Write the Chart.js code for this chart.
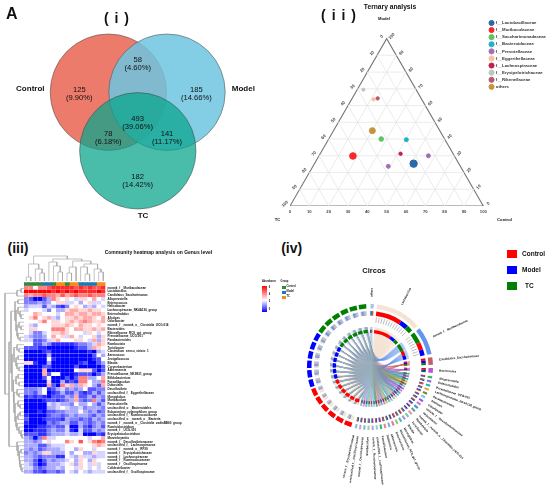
<!DOCTYPE html>
<html>
<head>
<meta charset="utf-8">
<script src="https://cdn.jsdelivr.net/npm/chart.js@4"></script>
<style>
  html, body { margin: 0; padding: 0; background: #fff; }
  body { width: 550px; height: 501px; position: relative; overflow: hidden; font-family: "Liberation Sans", Arial, sans-serif; }
  canvas { position: absolute; filter: blur(.3px); }
  .t { position: absolute; white-space: nowrap; line-height: 1; color: #111; }
</style>
</head>
<body>
<script>
// (i) venn
const vennNames = ["Control", "Model", "TC"];
const vennCounts = ["125", "185", "182", "58", "78", "141", "493"];
const vennShares = ["(9.90%)", "(14.66%)", "(14.42%)", "(4.60%)", "(6.18%)", "(11.17%)", "(39.06%)"];

// (ii) ternary: percentages per family
const families = ["f__Lactobacillaceae", "f__Muribaculaceae", "f__Saccharimonadaceae", "f__Bacteroidaceae", "f__Prevotellaceae",
  "f__Eggerthellaceae", "f__Lachnospiraceae", "f__Erysipelotrichaceae", "f__Rikenellaceae", "others"];
const famControl = [[51.3], [17.6], [27.2], [40.4], [56.6, 39], [11.4], [41.6], [3.2], [13.2], [20.1]];
const famModel = [[25.3], [29.9], [40], [39.6], [30, 23.7], [63.7], [31.2], [69.5], [64.3], [45]];
const famTC = [[23.4], [52.5], [32.8], [20], [13.4, 37.3], [24.9], [27.2], [27.3], [22.5], [34.9]];
const famSize = [3.7, 3.3, 2.3, 2, 2, 1.7, 1.7, 1.6, 1.7, 3];
const famColors = ["#2b69a8", "#f8282c", "#5cc465", "#1fb1cc", "#a56fb8", "#fcbfa6", "#c21f4c", "#bcc7c4", "#b45a72", "#c4963c"];
const ternaryTicks = [0, 10, 20, 30, 40, 50, 60, 70, 80, 90, 100];

// (iii) heatmap
const genera = ["norank_f__Muribaculaceae", "Lactobacillus", "Candidatus_Saccharimonas", "Alloprevotella", "Enterococcus", "Helicobacter",
  "Lachnospiraceae_NK4A136_group", "Enterorhabdus", "Alistipes", "Odoribacter", "norank_f__norank_o__Clostridia_UCG-014", "Bacteroides",
  "Rikenellaceae_RC9_gut_group", "Prevotellaceae_UCG-001", "Parabacteroides", "Romboutsia", "Turicibacter", "Clostridium_sensu_stricto_1",
  "Aerococcus", "Jeotgalicoccus", "Blautia", "Corynebacterium", "Akkermansia", "Prevotellaceae_NK3B31_group", "Bifidobacterium",
  "Faecalibaculum", "Dubosiella", "Desulfovibrio", "unclassified_f__Eggerthellaceae", "Monoglobus", "Muribaculum", "Parasutterella",
  "unclassified_o__Bacteroidales", "Eubacterium_xylanophilum_group", "unclassified_f__Ruminococcaceae", "unclassified_o__norank_o__Bacteria",
  "norank_f__norank_o__Clostridia_vadinBB60_group", "Ruminiclostridium", "norank_f__UCG-010", "Erysipelatoclostridium", "Marvinbryantia",
  "norank_f__Desulfovibrionaceae", "unclassified_f__Lachnospiraceae", "norank_f__norank_o__RF39", "norank_f__Erysipelotrichaceae",
  "norank_f__Lachnospiraceae", "norank_f__Ruminococcaceae", "norank_f__Oscillospiraceae", "Colidextribacter", "unclassified_f__Oscillospiraceae"];
const colGroups = ["Control", "Control", "Control", "Control", "Model", "Model", "Control", "TC", "TC", "Control", "TC", "TC", "Model", "Model", "Model", "Model", "TC", "TC"];
const groupColors = { Control: "#2e8b3e", Model: "#1f78b4", TC: "#f28e1c" };
const heat = [
  [4.5,4.5,3,4.5,4.5,5,5.5,5.5,5.5,5.5,5.5,5,5.5,5,5.5,5,5,5.5],
  [6,6,6,6,6,6,5.5,6,5.5,6,5.5,6,5.5,5.5,5.5,5.5,6,5.5],
  [4.5,4,4.5,4.5,5,4.5,4.5,4,5,4,4.5,5,4.5,4.5,5,4.5,4.5,4.5],
  [1.5,1,0,0,1,2,4.5,3.5,3,3.5,3,2.5,3.5,3.5,3,4,3,2.5],
  [1.5,1.5,1.5,2,1.5,2,3,3.5,3.5,2.5,2.5,3,2,3,3.5,2.5,2.5,3],
  [2,2.5,2.5,2.5,1,2.5,2,1,0.5,1.5,3,3.5,3,2,2.5,2,3,2.5],
  [2.5,3,3,3,2.5,1.5,3,2,2,3.5,4,4,3.5,3.5,4,3.5,3.5,3],
  [3,3,4,3.5,3,3,3,2.5,3,4,4,3.5,4,4,3.5,4,4,3.5],
  [3,3.5,4.5,3,3.5,4,2.5,2,3,3.5,3.5,4,3.5,4,4,3.5,3,4],
  [3,3,3,3.5,4.5,3,3.5,3.5,3,3.5,4,3.5,4,4.5,4,3.5,3.5,4],
  [3,2.5,2,3,3,3,3.5,3.5,3.5,4,3.5,3,4,3.5,3.5,3,3.5,3],
  [3,3.5,3.5,3,3,3,4.5,4.5,4.5,3.5,3,4,4,3.5,3.5,4,3.5,4],
  [3,2.5,1.5,1.5,2.5,3,3.5,3.5,4,3.5,3,3,3,2.5,3.5,3,2.5,3],
  [2.5,2,1.5,1.5,2,3,4,3,3.5,2.5,4,3,2.5,3,3,3.5,2,3.5],
  [2.5,2.5,1,1,1.5,2.5,3.5,4,3,3,3,3.5,3.5,3,2.5,4,2,3.5],
  [3,3,1,1,2,1.5,0.5,0.5,0.5,0.5,0.5,1,1.5,1.5,2,2.5,4,3.5],
  [1,1,1,0.5,0.5,0,0,0,0,0,0,0.5,1,1,2,4,3.5,3],
  [0,0,0,0,0.5,1,0,0,0,0,0,0,0,0,0.5,0,2,2.5],
  [0,0,0,0,0,2,0,0,0,0,0,0,0,0,0,1,3,2],
  [0,0,0,0,0,3,0.5,0,0,0,0,0,0,0,0,0.5,1,3],
  [3.5,3.5,0.5,0,0,2,0,0,0,0,0,0,0.5,1,0,0,1,2],
  [0,0,0,0,1,1,0,0,0,0,0,1,0,0,0,0,0,1],
  [0,0,0,0,4,0,0,0,0,0,0,3,3.5,3.5,3.5,1,0,1],
  [0,0,0,0,4,1,3,3,0,0,0,0.5,1,1,1,0,1,2],
  [0,0,0,0,1,3,0,0,0,1,0,1,4.5,4.5,2,2,3,4],
  [0,0,0,0,0,3.5,0,0,2,0.5,1,0.5,4.5,4.5,3,2,2,4.5],
  [0,0,0,0,0,4,1,0,4.5,3.5,4,2,4,3.5,3,2,1,4],
  [1.5,1.5,1.5,2,3,0.5,1,2,2.5,1.5,2,1.5,2,3,1,1,1.5,1.5],
  [1.5,1.5,1,2,3,0,0.5,1,2,1,1,2,1,0.5,1,2,1,2],
  [0.5,1,0.5,1,0.5,0,1,1,1,2,1.5,4,1,1,2,1,2,1.5],
  [0,0,0,0,0.5,1,1,0.5,1,1.5,2,4,1.5,1,1.5,4.5,2,1],
  [0,0,0,0,0,2.5,2,2.5,2,2,1.5,3,2,2,3,2,1,2],
  [0,0,0,0,0,2,2,2.5,3,2.5,2,2,2.5,1.5,2,2,2,1.5],
  [0,0,0,0.5,0,1,1,1.5,1.5,2,2,2,3,2,1.5,2,1,1.5],
  [0.5,0,0,0,0,1,1.5,1.5,1,1.5,2,1.5,2,2,1.5,1,2,1.5],
  [1,0,0,0,0.5,1,1,1,0.5,2,1.5,1.5,1,1.5,1,2,1.5,2],
  [0.5,0,0,0,0,1.5,1,1.5,2,2,1,1,2,1.5,1,1.5,2,1.5],
  [0,0,0,0.5,0.5,1,1.5,1,1,2.5,0,0,2,1,0.5,1.5,2,1],
  [0,0,0.5,0.5,0.5,1.5,2,1.5,1.5,2.5,0.5,0,2.5,1,1,2,1.5,2],
  [1,1,1,0.5,0.5,1.5,2,2,2,2.5,2,2,2.5,0,0,0,1,0.5],
  [2,1.5,0,1.5,4.5,2.5,2.5,3,3,3,3,3,3,3,2.5,3,3,4],
  [2,2,1.5,2,3,3.5,3,3,3,4.5,3.5,3,5,3,3.5,4.5,5,4.5],
  [2,2,2,1,1,2,2.5,2.5,2.5,3,3,3,3,3,3,3.5,4,3.5],
  [2,1.5,2,1,1.5,2,2,2,2.5,3,3,2,3.5,3,3,2.5,3,3],
  [1.5,2,1.5,2,3.5,3.5,2,2,2,3,2,3,3,2,2,3.5,2.5,2.5],
  [2,2,1.5,1,1.5,1.5,1.5,0.5,0.5,3,2.5,2,3.5,2.5,2.5,2,2.5,2.5],
  [2,2,1,0,1,2,1.5,2,2,2.5,3,2,3.5,3,2,3.5,3,3],
  [2.5,2,1,0,0.5,2,2,2,2.5,3,3.5,2,3.5,3,2.5,3.5,2.5,3],
  [2.5,2.5,1.5,1,1.5,2,2,2.5,2,3,3,2.5,3.5,3,2.5,3,2.5,3],
  [2,2,1,1,0.5,1.5,1.5,1,1.5,3,2.5,2,3,2.5,2,2.5,2.5,2.5]
];
// dendrograms: [height, left, right], leaves are column / row numbers
const colTree = [25,
  [17, [4, 0, 1], [12, 2, [8, 3, 4]]],
  [22,
    [19, 5, [15, 6, [9, 7, 8]]],
    [20, [14, [8, 9, 10], 11], [17, [14, 12, [7, 13, 14]], [12, 15, [9, 16, 17]]]]]];
const rowTreeA = [9, [6, 3, 4], [8, [6, 5, [4, 6, [3, 7, 8]]], [7, [5, 9, [3, 10, 11]], [6, 12, [4, 13, 14]]]]];
const rowTreeB = [12, [10, [7, 15, [5, 16, 17]], [8, [6, 18, 19], [7, 20, [5, 21, 22]]]],
  [11, [8, [6, 23, 24], [5, 25, 26]], [10, [7, 27, [5, 28, 29]], [9, [6, 30, [4, 31, 32]], [8, [6, [4, 33, 34], 35], [7, 36, [5, 37, [3, 38, [2, 39, 40]]]]]]]]];
const rowTreeC = [7, 41, [6, 42, [5, [3, 43, 44], [4.5, 45, [4, 46, [3, 47, [2, 48, 49]]]]]]];
const rowTree = [19, [7, [3, 0, 1], 2], [15, [13, rowTreeA, rowTreeB], rowTreeC]];

// (iv) circos
const circosTaxa = ["others", "Lactobacillus", "norank_f__Muribaculaceae", "Candidatus_Saccharimonas", "Bacteroides",
  "Alloprevotella", "Enterorhabdus", "Prevotellaceae_UCG-001", "Lachnospiraceae_NK4A136_group", "Parabacteroides", "Alistipes", "Odoribacter",
  "norank_f__Desulfovibrionaceae", "Helicobacter", "norank_f__norank_o__Clostridia_UCG-014", "Romboutsia", "Turicibacter", "Blautia", "Monoglobus",
  "Rikenellaceae_RC9_gut_group", "Enterococcus", "Akkermansia", "Dubosiella", "Faecalibaculum", "unclassified_f__Lachnospiraceae",
  "norank_f__Ruminococcaceae", "Muribaculum", "norank_f__Oscillospiraceae", "unclassified_f__Oscillospiraceae", "norank_f__Erysipelotrichaceae"];
const taxaSpan = [3, 42.5, 26, 7, 4.5, 2, 2, 2, 2, 2, 2, 2, 2, 2, 2, 2, 2, 2, 2, 2, 2, 2, 2, 2, 2, 2, 2, 2, 2, 2];
const taxaMix = [[.3,.35,.35],[.65,.2,.15],[.3,.25,.45],[.35,.35,.3],[.4,.3,.3],[.4,.4,.2],[.3,.3,.4],[.5,.2,.3],[.4,.2,.4],[.3,.5,.2],[.4,.3,.3],[.3,.4,.3],[.35,.3,.35],
  [.2,.5,.3],[.4,.4,.2],[.3,.5,.2],[.3,.4,.3],[.4,.3,.3],[.3,.3,.4],[.5,.2,.3],[.4,.4,.2],[.2,.4,.4],[.3,.3,.4],[.5,.3,.2],[.3,.4,.3],[.4,.3,.3],[.3,.4,.3],[.3,.3,.4],[.4,.3,.3],[.3,.4,.3]];
const taxaColors = ["#a9c4e8", "#f5e3d3", "#6495ed", "#c45f5f", "#ba55d3", "#3cb371", "#9370db", "#20b2aa", "#e0a040", "#6b8e23",
  "#87bfe8", "#8a60d8", "#d070c8", "#3aa0c0", "#5f9ea0", "#d8a0a0", "#66cdaa", "#b090e0", "#48c0b0", "#a0c070", "#cd7fb0", "#7fb0e0",
  "#e08a80", "#40b080", "#8fd0d0", "#c0a0e0", "#a0d0a0", "#70c0d8", "#d0a0c8", "#90b8e0"];
const circosGroups = ["#ff0000", "#0000ff", "#008000"]; // Control, Model, TC

// ---------- helpers
Chart.defaults.animation = false;
Chart.defaults.responsive = false;
Chart.defaults.devicePixelRatio = 1;
Chart.defaults.font.family = '"Liberation Sans", Arial, sans-serif';
Chart.defaults.plugins.legend.display = false;
Chart.defaults.plugins.tooltip.enabled = false;

function makeCanvas(left, top, w, h) {
  const c = document.createElement("canvas");
  c.width = w; c.height = h;
  c.style.left = left + "px"; c.style.top = top + "px";
  c.style.width = w + "px"; c.style.height = h + "px";
  document.body.appendChild(c);
  return c.getContext("2d");
}

function text(str, x, y, size, bold, extra) {
  const s = document.createElement("span");
  s.className = "t";
  s.textContent = str;
  s.style.left = x + "px"; s.style.top = y + "px";
  s.style.fontSize = size + "px";
  if (bold) s.style.fontWeight = "bold";
  s.style.transform = "translate(-50%,-50%)";
  if (extra) Object.assign(s.style, extra);
  document.body.appendChild(s);
  return s;
}

// ---------- (i) venn
const venn = new Chart(makeCanvas(0, 0, 275, 230), {
  type: "bubble",
  data: {
    labels: vennNames,
    datasets: [{
      data: [{ x: 108.4, y: 92.2, r: 58.2 }, { x: 167, y: 92.2, r: 58.2 }, { x: 137.8, y: 150.8, r: 58.2 }],
      backgroundColor: ["rgba(233,105,87,.88)", "rgba(110,198,224,.85)", "rgba(10,165,140,.74)"],
      borderColor: "rgba(70,70,70,.75)",
      borderWidth: 0.7,
      clip: false
    }]
  },
  options: { scales: { x: { display: false, min: 0, max: 275 }, y: { display: false, min: 0, max: 230, reverse: true } } }
});
// bubbles keep a margin as big as their radius, so the scales get the inner box
venn.options.scales.x.min = venn.chartArea.left;
venn.options.scales.x.max = venn.chartArea.right;
venn.options.scales.y.min = venn.chartArea.top;
venn.options.scales.y.max = venn.chartArea.bottom;
venn.update();

const vennPos = [[79.3, 89.7], [196.3, 89.7], [137.7, 177], [137.7, 60.3], [108.3, 133.7], [167, 133.7], [137.7, 119]];
vennCounts.forEach((c, i) => {
  text(c, vennPos[i][0], vennPos[i][1], 7.6);
  text(vennShares[i], vennPos[i][0], vennPos[i][1] + 7.8, 7.6);
});
text("Control", 30.3, 89.3, 8, true);
text("Model", 243.3, 89.3, 8, true);
text("TC", 143, 216, 8, true);
text("A", 11.7, 14, 16, true);
text("( i )", 117, 17.5, 14, true, { letterSpacing: "1px" });
text("( i i )", 339, 15, 14, true, { letterSpacing: "1px" });
text("(iii)", 18, 248, 14, true);
text("(iv)", 291.7, 248.3, 14, true);

// ---------- (ii) ternary
const ternXY = (c, m) => ({ x: c + m / 2, y: m * 0.866 });
const lineDs = (pts, color, width) => ({ type: "scatter", data: pts, showLine: true, borderColor: color, borderWidth: width, pointRadius: 0, order: 5, label: "" });

const ternDatasets = families.map((f, i) => ({
  label: f,
  data: famControl[i].map((c, k) => ternXY(c, famModel[i][k])),
  backgroundColor: famColors[i],
  borderColor: famColors[i],
  pointRadius: famSize[i],
  order: 1
}));
ternaryTicks.slice(1, -1).forEach(v => {
  ternDatasets.push(lineDs([ternXY(100 - v, v), ternXY(0, v)], "#e6e6e6", 0.8));
  ternDatasets.push(lineDs([ternXY(v, 100 - v), ternXY(v, 0)], "#e6e6e6", 0.8));
  ternDatasets.push(lineDs([ternXY(100 - v, 0), ternXY(0, 100 - v)], "#e6e6e6", 0.8));
});
ternDatasets.push(lineDs([ternXY(0, 0), ternXY(100, 0), ternXY(0, 100), ternXY(0, 0)], "#777", 1.1));

const ternarySides = {
  id: "ternarySides",
  afterDraw(chart) {
    const { ctx, scales } = chart;
    ctx.save();
    ctx.font = "bold 4.2px " + Chart.defaults.font.family;
    ctx.fillStyle = "#444";
    ctx.textAlign = "center"; ctx.textBaseline = "middle";
    const put = (v, p, dx, dy) => {
      ctx.save();
      ctx.translate(scales.x.getPixelForValue(p.x) + dx, scales.y.getPixelForValue(p.y) + dy);
      ctx.rotate(-Math.PI / 4);
      ctx.fillText(String(v), 0, 0);
      ctx.restore();
    };
    ternaryTicks.forEach(v => {
      put(v, ternXY(0, 100 - v), -5, -2);
      put(v, ternXY(100 - v, v), 5, -2.3);
    });
    ctx.restore();
  }
};

// canvas runs a little past the page edge so the legend sits where it does in the picture
const tern = new Chart(makeCanvas(275, 0, 281, 230), {
  type: "scatter",
  data: { datasets: ternDatasets },
  plugins: [ternarySides],
  options: {
    layout: { padding: { left: 15, top: 18, right: 0, bottom: 0 } },
    scales: {
      x: {
        min: 0, max: 103,
        grid: { display: false, drawTicks: false }, border: { display: false },
        afterBuildTicks: s => { s.ticks = ternaryTicks.map(v => ({ value: v })); },
        afterFit: s => { s.height = 24; },
        ticks: { font: { size: 4.2, weight: "bold" }, color: "#444", padding: 3, maxRotation: 0, autoSkip: false }
      },
      y: { display: false, min: 0, max: 97.25 }
    },
    plugins: {
      legend: {
        display: true, position: "right", align: "start",
        labels: {
          usePointStyle: true, boxHeight: 3.6, padding: 2.8,
          font: { size: 4.3, weight: "bold" }, color: "#333",
          filter: it => !!it.text
        }
      }
    }
  }
});
// same px per unit on both axes so the triangle stays equilateral at 193.3px wide
tern.options.scales.x.max = (tern.chartArea.right - tern.chartArea.left) / 1.933;
tern.options.scales.y.max = (tern.chartArea.bottom - tern.chartArea.top) / 1.933;
tern.update();
text("Ternary analysis", 390, 7, 6.7, true);
text("Model", 384, 19, 4.2, true);
text("TC", 277.5, 220, 4.2, true);
text("Control", 504.5, 220, 4.2, true);

// ---------- (iii) heatmap
function heatColor(v) {
  if (v <= 3) { const k = Math.round(255 * v / 3); return `rgb(${k},${k},255)`; }
  const k = Math.round(255 * (6 - v) / 3);
  return `rgb(255,${k},${k})`;
}
new Chart(makeCanvas(0, 275, 275, 226), {
  type: "bar",
  data: {
    labels: [""].concat(genera),
    datasets: colGroups.map((g, c) => ({
      data: [""].concat(genera).map(() => 1),
      backgroundColor: [groupColors[g]].concat(heat.map(r => heatColor(r[c]))),
      // the group strip stays solid, only the cells get a faint white edge
      borderColor: "rgba(255,255,255,.45)",
      borderWidth: ctx => (ctx.dataIndex === 0 ? 0 : 0.2),
      borderSkipped: false,
      barPercentage: 1,
      categoryPercentage: 1
    }))
  },
  options: {
    indexAxis: "y",
    layout: { padding: { left: 24, top: 7.2, right: 0, bottom: 27.3 } },
    scales: {
      x: { display: false, stacked: true, min: 0, max: 18 },
      y: {
        stacked: true, position: "right",
        grid: { display: false, drawTicks: false }, border: { display: false },
        afterFit: s => { s.width = 169.5; },
        ticks: { autoSkip: false, font: { size: 3, weight: "bold" }, color: "#111", padding: 2 }
      }
    }
  }
});
text("Community heatmap analysis on Genus level", 104.7, 251.7, 5, true, { transform: "translateY(-50%)" });

// dendrograms
const treePts = [];
function walk(node, pos, toXY) {
  if (typeof node === "number") return { p: pos(node), h: 0 };
  const [h, a, b] = node;
  const A = walk(a, pos, toXY), B = walk(b, pos, toXY);
  treePts.push(toXY(A.p, A.h), toXY(A.p, h), toXY(B.p, h), toXY(B.p, B.h), { x: NaN, y: NaN });
  return { p: (A.p + B.p) / 2, h };
}
walk(colTree, c => 24 + (c + 0.5) * 81.5 / 18, (p, h) => ({ x: p, y: 281 - h }));
walk(rowTree, r => 286.7 + (r + 0.5) * 3.74, (p, h) => ({ x: 24 - h, y: p }));
new Chart(makeCanvas(0, 250, 110, 235), {
  type: "scatter",
  data: { datasets: [{ data: treePts, showLine: true, borderColor: "#a8a8a8", borderWidth: 0.7, pointRadius: 0 }] },
  options: { scales: { x: { display: false, min: 0, max: 110 }, y: { display: false, min: 250, max: 485, reverse: true } } }
});

// ---------- (iv) circos
const CX = 369.5, CY = 367;
const rad = d => d * Math.PI / 180;
const polar = (deg, r) => ({ x: r * Math.sin(rad(deg)), y: r * Math.cos(rad(deg)) });

// sector layout, degrees clockwise from the top
const taxaGap = taxaSpan.map((s, i) => (i < 5 ? 3 : 1.9));
const taxaStart = [];
let angle = 0.5;
taxaSpan.forEach((s, i) => { taxaStart.push(angle); angle += s + taxaGap[i]; });
const sampleStartAngle = 197.5, sampleSpan = 7, sampleStep = 8.94;
const sampleGroup = s => Math.floor(s / 6);
const groupTotal = [0, 1, 2].map(g => taxaSpan.reduce((a, s, t) => a + s * taxaMix[t][g], 0));

function pieces(taxonParts, sampleParts) {
  const data = [], colors = [];
  let at = 0;
  const goTo = a => { if (a > at + 1e-6) { data.push(a - at); colors.push("rgba(0,0,0,0)"); at = a; } };
  taxaSpan.forEach((s, t) => {
    goTo(taxaStart[t]);
    taxonParts(t).forEach(([d, col]) => { data.push(d); colors.push(col); at += d; });
  });
  for (let s = 0; s < 18; s++) {
    goTo(sampleStartAngle + s * sampleStep);
    sampleParts(s).forEach(([d, col]) => { data.push(d); colors.push(col); at += d; });
  }
  goTo(360);
  return { data, backgroundColor: colors, borderWidth: 0 };
}
const taxonMixParts = t => [0, 1, 2].map(g => [taxaSpan[t] * taxaMix[t][g], circosGroups[g]]).sort((a, b) => b[0] - a[0]);
const ringA = pieces(t => [[taxaSpan[t], taxaColors[t]]], s => [[sampleSpan, circosGroups[sampleGroup(s)]]]);
const ringB = pieces(taxonMixParts, s => taxaSpan.map((sp, t) => [sampleSpan * sp * taxaMix[t][sampleGroup(s)] / groupTotal[sampleGroup(s)], taxaColors[t]]));
const ringC = pieces(taxonMixParts, s => [[sampleSpan, circosGroups[sampleGroup(s)]]]);
const spacer = w => ({ data: [1], backgroundColor: ["rgba(0,0,0,0)"], borderWidth: 0, weight: w });

// chords first, rings on top
const chordSets = [];
const sampleCursor = new Array(18).fill(0);
const chordItems = [];
taxaSpan.forEach((sp, t) => {
  let cur = taxaStart[t];
  taxonMixParts(t).forEach(([deg, col]) => {
    const g = circosGroups.indexOf(col);
    for (let s = g * 6; s < g * 6 + 6; s++) {
      const w = deg / 6;
      const sampleW = sampleSpan * sp * taxaMix[t][g] / groupTotal[g];
      const a = cur + w / 2;
      const b = sampleStartAngle + s * sampleStep + sampleCursor[s] + sampleW / 2;
      sampleCursor[s] += sampleW;
      cur += w;
      chordItems.push({ t, a, b, width: Math.max(0.4, 40 * rad(w) * 1.05) });
    }
  });
});
chordItems.reverse().forEach(ch => {
  const p = polar(ch.a, 40), q = polar(ch.b, 40);
  chordSets.push({
    data: [p, { x: (p.x + q.x) * 0.2 + 3, y: (p.y + q.y) * 0.2 - 4 }, q],
    showLine: true, tension: 0.4, pointRadius: 0,
    borderWidth: ch.width,
    borderColor: taxaColors[ch.t] + (ch.t === 1 ? "e0" : "88")
  });
});
// little grey axis marks on the two big taxa
[1, 2].forEach(t => {
  for (let d = taxaStart[t] + 1; d < taxaStart[t] + taxaSpan[t]; d += 3.2) {
    chordSets.push({ data: [polar(d, 44.5), polar(d, 50)], showLine: true, pointRadius: 0, borderWidth: 1, borderColor: "#bdbdbd" });
  }
});
new Chart(makeCanvas(CX - 75, CY - 75, 150, 150), {
  type: "scatter",
  data: { datasets: chordSets },
  options: { scales: { x: { display: false, min: -75, max: 75 }, y: { display: false, min: -75, max: 75 } } }
});
new Chart(makeCanvas(CX - 75, CY - 75, 150, 150), {
  type: "doughnut",
  data: {
    datasets: [
      Object.assign(ringA, { weight: 3.5 }),
      spacer(2),
      Object.assign(ringB, { weight: 3.5 }),
      spacer(11),
      Object.assign(ringC, { weight: 2.5 })
    ]
  },
  options: { radius: 63, cutout: 40.5 }
});

circosTaxa.forEach((name, t) => {
  const th = taxaStart[t] + taxaSpan[t] / 2;
  const right = th < 180;
  const p = polar(th, 70);
  text(name, CX + p.x, CY - p.y, 3, true, {
    transform: right ? `translateY(-50%) rotate(${th - 90}deg)` : `translate(-100%,-50%) rotate(${th + 90}deg)`,
    transformOrigin: right ? "0 50%" : "100% 50%"
  });
});
text("Circos", 374, 271, 7.5, true);

// circos legends
text("Abundance", 269, 282, 2.6, true);
text("Group", 284.5, 282, 2.6, true);
const bar = document.createElement("div");
bar.style.cssText = "position:absolute;left:262px;top:285.5px;width:5px;height:26px;background:linear-gradient(#ff0000,#ffffff 55%,#0000ff)";
document.body.appendChild(bar);
["6", "4", "2", "0"].forEach((v, i) => text(v, 269.5, 287.5 + i * 7.4, 2.6, true));
vennNames.forEach((n, i) => {
  const sq = document.createElement("div");
  sq.style.cssText = `position:absolute;left:282px;top:${285.5 + i * 5}px;width:3.5px;height:3.5px;background:${groupColors[n]}`;
  document.body.appendChild(sq);
  text(n, 286.5, 287.3 + i * 5, 2.6, true, { transform: "translateY(-50%)" });
});

// top right key
vennNames.forEach((n, i) => {
  const sq = document.createElement("div");
  sq.style.cssText = `position:absolute;left:507px;top:${250 + i * 16}px;width:10px;height:8px;background:${circosGroups[i]}`;
  document.body.appendChild(sq);
});
text("Control", 522, 253.7, 6.5, true, { transform: "translateY(-50%)" });
text("Model", 522, 270, 6.5, true, { transform: "translateY(-50%)" });
text("TC", 525, 285.5, 6.5, true, { transform: "translateY(-50%)" });
</script>
</body>
</html>
